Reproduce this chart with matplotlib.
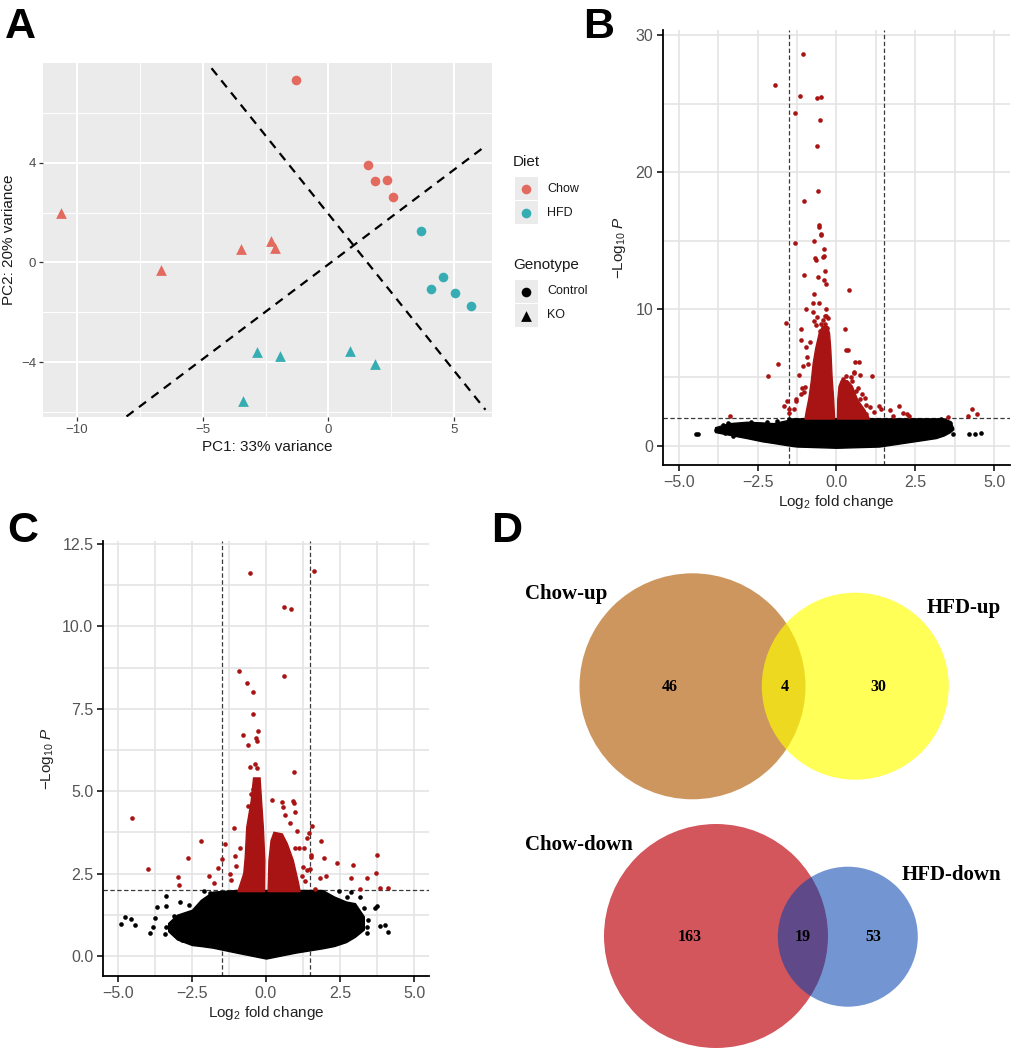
import numpy as np
import matplotlib
matplotlib.use("Agg")
import matplotlib.pyplot as plt
from matplotlib.patches import Circle, Rectangle

plt.rcParams['font.family'] = ['Liberation Sans', 'DejaVu Sans']
plt.rcParams['mathtext.fontset'] = 'custom'
plt.rcParams['mathtext.rm'] = 'Liberation Sans'
plt.rcParams['mathtext.it'] = 'Liberation Sans:italic'
plt.rcParams['mathtext.bf'] = 'Liberation Sans:bold'

# ---------------- data: panel A (PCA) ----------------
chow_ctrl_x = [-1.29, 1.59, 1.85, 2.31, 2.55]
chow_ctrl_y = [7.32, 3.92, 3.28, 3.32, 2.64]
hfd_ctrl_x = [3.69, 4.09, 4.56, 5.03, 5.65]
hfd_ctrl_y = [1.27, -1.08, -0.57, -1.24, -1.75]
chow_ko_x = [-10.65, -6.67, -3.47, -2.27, -2.13]
chow_ko_y = [2.0, -0.3, 0.55, 0.87, 0.57]
hfd_ko_x = [-2.83, -1.93, 0.87, 1.85, -3.41]
hfd_ko_y = [-3.59, -3.75, -3.56, -4.08, -5.54]
split1_x = [-4.65, 6.24]
split1_y = [7.79, -5.91]
split2_x = [-8.03, 6.24]
split2_y = [-6.18, 4.67]

# ---------------- data: panel B (volcano) ----------------
b_red = [(-1.05, 28.6), (-1.96, 26.4), (-1.17, 25.6), (-0.62, 25.4), (-0.50, 25.5),
         (-1.30, 24.3), (-0.52, 23.8), (-0.62, 21.9), (-0.60, 18.6), (-1.04, 17.9),
         (-0.56, 16.0), (-0.54, 16.1), (-0.50, 15.5), (-0.50, 15.4), (-0.71, 15.0),
         (-1.32, 14.8), (-0.41, 14.4), (-0.40, 13.9), (-0.67, 13.7), (-0.65, 13.6),
         (-0.43, 13.8), (-0.38, 12.8), (-1.02, 12.5), (-0.59, 12.3), (-0.40, 12.1),
         (-0.34, 11.8), (0.39, 11.4), (-0.70, 11.1), (-0.74, 10.4), (-0.57, 10.4),
         (-0.97, 10.0), (-0.74, 9.8), (-0.34, 10.0), (-0.38, 9.5), (-0.32, 9.5),
         (-1.60, 9.0), (-1.14, 8.5), (-0.53, 8.4), (-0.30, 8.6), (0.28, 8.5),
         (-1.14, 7.7), (0.30, 7.0), (0.36, 7.0), (-1.87, 6.0), (0.71, 6.1),
         (0.58, 6.1), (-2.18, 5.1), (1.14, 5.1), (0.55, 5.3), (0.29, 5.1),
         (-1.56, 3.3), (-1.68, 2.9), (-0.99, 4.3), (-1.11, 3.8), (-1.29, 3.3),
         (-1.49, 2.4), (-3.37, 2.2), (1.99, 2.9), (1.71, 2.6), (2.12, 2.4),
         (2.23, 2.3), (1.36, 2.9), (1.42, 2.7), (0.93, 3.0), (3.55, 2.1),
         (4.17, 2.2), (4.28, 2.7), (4.45, 2.3), (0.55, 5.42), (0.74, 5.2),
         (0.40, 4.3), (0.69, 4.2), (0.82, 3.8), (-1.27, 3.45), (-1.36, 2.72),
         (-1.10, 4.2), (-1.04, 3.9), (-1.50, 2.72), (1.78, 2.2), (2.30, 2.2),
         (-0.72, 9.1), (-0.62, 9.4), (-0.50, 8.9), (-0.42, 9.2), (-0.28, 9.3),
         (-0.66, 8.8), (-0.36, 8.9), (-0.92, 6.5), (-0.98, 7.2), (-0.85, 7.6),
         (-1.05, 5.8), (-1.20, 5.2), (-0.90, 6.0), (0.62, 4.0), (0.75, 3.4),
         (0.90, 3.5), (1.05, 2.8), (1.20, 2.5), (0.95, 2.3), (0.50, 4.7),
         (0.20, 4.9), (0.45, 5.0)]
b_black = [(-4.44, 0.88), (-4.38, 0.88), (3.68, 0.88), (4.19, 0.85), (4.38, 0.88),
           (4.59, 0.93), (-3.81, 1.17), (-3.70, 1.29), (-3.55, 0.93), (-3.33, 1.05),
           (-3.60, 1.53), (-3.39, 1.41), (-3.12, 1.53), (-2.98, 1.36), (-2.86, 1.17),
           (-2.61, 1.41), (-3.28, 0.70), (-2.42, 1.17), (-2.01, 1.41), (-1.75, 1.53),
           (3.23, 1.85), (3.49, 1.70), (3.60, 1.66), (2.96, 1.66), (3.07, 1.17),
           (-3.45, 1.65), (-3.00, 1.60), (-2.70, 1.75), (-2.20, 1.70), (-1.90, 1.80),
           (3.30, 1.95), (-1.50, 1.95)]
# outline of the dense (overplotted) clouds
b_cloud_x = [-3.85, -3.4, -2.85, -2.35, -2.0, -1.6, -1.4, -1.25, 0.0, 1.35, 2.4, 3.15, 3.4, 3.6, 3.7]
b_cloud_hi = [1.35, 1.65, 1.75, 1.7, 1.65, 1.85, 2.0, 2.0, 2.0, 2.0, 2.0, 2.0, 2.0, 1.8, 1.3]
b_cloud_lo = [1.0, 0.8, 0.56, 0.32, 0.2, 0.05, -0.02, -0.06, -0.15, -0.06, 0.3, 0.56, 0.75, 1.0, 1.2]
b_core_left_x = [-1.0, -0.95, -0.88, -0.8, -0.74, -0.66, -0.55, -0.45, -0.28, -0.22, -0.18, -0.14, -0.09, -0.06]
b_core_left_y = [1.95, 2.6, 3.4, 4.7, 6.0, 7.1, 8.2, 8.7, 8.7, 8.2, 7.0, 5.0, 3.4, 1.95]
b_core_right_x = [0.03, 0.04, 0.08, 0.15, 0.35, 0.5, 0.67, 0.9, 1.05]
b_core_right_y = [1.95, 3.35, 4.35, 4.75, 4.75, 4.35, 3.35, 2.6, 1.95]

# ---------------- data: panel C (volcano) ----------------
c_red = [(-0.54, 11.61), (1.63, 11.68), (0.62, 10.58), (0.86, 10.53), (-0.91, 8.66),
         (0.62, 8.49), (-0.63, 8.29), (-0.43, 8.02), (-0.44, 7.33), (-0.77, 6.70),
         (-0.26, 6.81), (-0.34, 6.61), (-0.31, 6.53), (-0.62, 6.40), (0.93, 5.59),
         (-0.55, 5.72), (-0.36, 5.81), (-0.31, 5.69), (0.90, 4.70), (0.94, 4.63),
         (0.20, 4.73), (0.53, 4.68), (0.56, 4.53), (0.98, 4.37), (0.64, 4.29),
         (0.81, 4.02), (-4.53, 4.17), (1.54, 3.94), (-1.07, 3.87), (1.03, 3.79),
         (1.46, 3.74), (1.37, 3.57), (1.85, 3.49), (-2.18, 3.49), (-1.38, 3.40),
         (1.27, 3.27), (1.12, 3.27), (0.97, 3.27), (-0.88, 3.26), (1.53, 3.07),
         (1.53, 3.01), (-2.62, 2.96), (1.95, 2.98), (3.74, 3.07), (-1.48, 2.93),
         (-1.03, 3.03), (2.39, 2.81), (2.94, 2.76), (-3.98, 2.65), (-1.63, 2.66),
         (1.26, 2.69), (1.37, 2.61), (3.71, 2.53), (1.50, 2.63), (-2.97, 2.40),
         (3.40, 2.36), (-1.93, 2.43), (1.83, 2.35), (2.01, 2.41), (2.86, 2.36),
         (-2.95, 2.15), (-1.18, 2.31), (-1.23, 2.49), (3.83, 2.07), (4.11, 2.06),
         (3.18, 2.02), (1.21, 2.41), (1.32, 2.28), (-1.74, 2.20), (-1.00, 2.73),
         (1.67, 2.02), (-0.45, 5.05), (-0.38, 5.2), (-0.60, 4.55), (-0.50, 4.9)]
c_black = [(-4.88, 0.96), (-4.75, 1.19), (-4.55, 1.12), (-4.43, 0.94), (-3.92, 0.71),
           (-3.80, 0.88), (-3.76, 1.14), (-3.68, 1.48), (-3.38, 1.52), (-3.38, 1.82),
           (-3.38, 0.89), (-3.41, 0.67), (-3.12, 0.79), (-3.09, 1.21), (-2.90, 1.65),
           (-2.82, 0.49), (-2.09, 1.98), (-1.89, 1.90), (-2.60, 1.55), (-2.75, 1.00),
           (3.84, 0.91), (4.01, 0.94), (4.10, 0.74), (3.69, 1.45), (3.74, 1.52),
           (3.16, 1.80), (3.41, 0.89), (3.41, 0.69), (2.86, 1.95), (2.46, 1.98),
           (2.72, 1.80), (3.30, 1.45), (3.45, 1.10), (2.95, 1.30)]
c_cloud_x = [-3.3, -3.0, -2.5, -2.2, -1.8, -1.0, 0.0, 1.0, 1.9, 2.3, 2.7, 3.0, 3.3]
c_cloud_hi = [1.0, 1.25, 1.4, 1.7, 1.95, 2.0, 2.0, 2.0, 2.0, 1.8, 1.65, 1.6, 1.2]
c_cloud_lo = [0.75, 0.5, 0.33, 0.3, 0.25, 0.1, -0.08, 0.1, 0.23, 0.3, 0.42, 0.58, 0.8]
c_core_left_x = [-0.95, -0.75, -0.7, -0.65, -0.5, -0.42, -0.2, -0.15, -0.09, -0.04, -0.05]
c_core_left_y = [1.95, 2.5, 3.0, 3.9, 4.7, 5.4, 5.4, 4.7, 3.9, 2.9, 1.95]
c_core_right_x = [0.07, 0.1, 0.17, 0.27, 0.55, 0.72, 0.92, 1.1, 1.15]
c_core_right_y = [1.95, 2.9, 3.5, 3.75, 3.7, 3.4, 2.9, 2.2, 1.95]

fc_cutoff = 1.5
p_cutoff = 2.0

# ---------------- data: panel D (Venn) ----------------
venn_up_names = ['Chow-up', 'HFD-up']
venn_up_counts = [46, 4, 30]
venn_down_names = ['Chow-down', 'HFD-down']
venn_down_counts = [163, 19, 53]

W, H = 1012, 1050
fig = plt.figure(figsize=(W / 100, H / 100), dpi=100)


def px_axes(left, top, right, bottom):
    return fig.add_axes([left / W, 1 - bottom / H, (right - left) / W, (bottom - top) / H])


RED = '#E36A5F'
TEAL = '#36ADB3'

# ---------------- A ----------------
axA = px_axes(43, 63, 492, 417)
axA.set_facecolor('#EBEBEB')
for s in axA.spines.values():
    s.set_visible(False)
axA.set_xlim(-11.35, 6.5)
axA.set_ylim(-6.2, 8.0)
axA.set_xticks([-10, -5, 0, 5])
axA.set_xticklabels(['\u221210', '\u22125', '0', '5'])
axA.set_yticks([-4, 0, 4])
axA.set_yticklabels(['\u22124', '0', '4'])
axA.set_xticks([-7.5, -2.5, 2.5], minor=True)
axA.set_yticks([-6, -2, 2, 6], minor=True)
axA.grid(True, which='major', color='white', lw=1.5)
axA.grid(True, which='minor', color='white', lw=0.7)
axA.set_axisbelow(True)
axA.tick_params(which='major', length=3, width=0.9, color='#333333', labelsize=9.5,
                labelcolor='#4D4D4D', pad=2)
axA.tick_params(which='minor', length=0)
axA.plot(split1_x, split1_y, ls=(0, (4, 3)), color='black', lw=1.6, zorder=2)
axA.plot(split2_x, split2_y, ls=(0, (4, 3)), color='black', lw=1.6, zorder=2)
axA.scatter(chow_ctrl_x, chow_ctrl_y, s=48, marker='o', color=RED, lw=0, zorder=3)
axA.scatter(hfd_ctrl_x, hfd_ctrl_y, s=48, marker='o', color=TEAL, lw=0, zorder=3)
axA.scatter(chow_ko_x, chow_ko_y, s=60, marker='^', color=RED, lw=0, zorder=3)
axA.scatter(hfd_ko_x, hfd_ko_y, s=60, marker='^', color=TEAL, lw=0, zorder=3)
axA.set_xlabel('PC1: 33% variance', fontsize=11, color='#1A1A1A')
axA.set_ylabel('PC2: 20% variance', fontsize=11, color='#1A1A1A')
axA.xaxis.set_label_coords(0.5, -0.085)
axA.xaxis.label.set_va('center')
axA.yaxis.set_label_coords(-0.076, 0.5)
axA.yaxis.label.set_va('center')


# ---------------- volcano helper ----------------
DARKRED = '#A81414'


def volcano(ax, cloud_x, cloud_lo, cloud_hi, black_pts, cl_x, cl_y, cr_x, cr_y, red_pts,
            ylim, yticks, ylabels, yminor):
    ax.set_xlim(-5.5, 5.5)
    ax.set_ylim(*ylim)
    ax.set_xticks([-5, -2.5, 0, 2.5, 5])
    ax.set_xticklabels(['\u22125.0', '\u22122.5', '0.0', '2.5', '5.0'])
    ax.set_xticks([-3.75, -1.25, 1.25, 3.75], minor=True)
    ax.set_yticks(yticks)
    ax.set_yticklabels(ylabels)
    ax.set_yticks(yminor, minor=True)
    ax.grid(True, which='both', color='#E4E4E4', lw=1.2)
    ax.set_axisbelow(True)
    for side in ['top', 'right']:
        ax.spines[side].set_visible(False)
    for side in ['left', 'bottom']:
        ax.spines[side].set_linewidth(1.3)
        ax.spines[side].set_color('black')
    ax.tick_params(which='major', length=4, width=1.1, color='black', labelsize=11.5,
                   labelcolor='#555555', pad=3)
    ax.tick_params(which='minor', length=0)
    for xv in (-fc_cutoff, fc_cutoff):
        ax.axvline(xv, ls=(0, (3.5, 2)), color='#3A3A3A', lw=0.9, zorder=1.5)
    ax.axhline(p_cutoff, ls=(0, (3.5, 2)), color='#3A3A3A', lw=0.9, zorder=1.5)
    ax.fill_between(cloud_x, cloud_lo, cloud_hi, color='black', lw=1.0, zorder=2)
    bx, by = zip(*black_pts)
    ax.scatter(bx, by, s=11, color='black', lw=0, zorder=2)
    ax.fill(cl_x, cl_y, color=DARKRED, lw=1.0, zorder=3)
    ax.fill(cr_x, cr_y, color=DARKRED, lw=1.0, zorder=3)
    rx, ry = zip(*red_pts)
    ax.scatter(rx, ry, s=11, color=DARKRED, lw=0, zorder=3)
    ax.set_xlabel(r'$\mathrm{Log}_{2}$ fold change', fontsize=11, color='#222222')
    ax.set_ylabel(r'$-\mathrm{Log}_{10}\ \mathit{P}$', fontsize=11, color='#222222')
    ax.xaxis.set_label_coords(0.5, -0.085)
    ax.xaxis.label.set_va('center')
    ax.yaxis.label.set_va('center')


# ---------------- B ----------------
axB = px_axes(663, 30, 1010, 465)
volcano(axB, b_cloud_x, b_cloud_lo, b_cloud_hi, b_black,
        b_core_left_x, b_core_left_y, b_core_right_x, b_core_right_y, b_red,
        (-1.41, 30.39), [0, 10, 20, 30], ['0', '10', '20', '30'], [5, 15, 25])
axB.yaxis.set_label_coords(-0.124, 0.5)

# ---------------- C ----------------
axC = px_axes(103, 541, 429, 976)
volcano(axC, c_cloud_x, c_cloud_lo, c_cloud_hi, c_black,
        c_core_left_x, c_core_left_y, c_core_right_x, c_core_right_y, c_red,
        (-0.61, 12.59), [0, 2.5, 5, 7.5, 10, 12.5],
        ['0.0', '2.5', '5.0', '7.5', '10.0', '12.5'],
        [1.25, 3.75, 6.25, 8.75, 11.25])
axC.yaxis.set_label_coords(-0.170, 0.5)

# ---------------- overlay (pixel coords): letters, legend, Venn ----------------
ov = fig.add_axes([0, 0, 1, 1], zorder=10)
ov.set_xlim(0, W)
ov.set_ylim(H, 0)
ov.axis('off')
ov.patch.set_alpha(0)

for letter, x, y in [('A', 5, 38), ('B', 583, 38), ('C', 7, 542), ('D', 491, 542)]:
    ov.text(x, y, letter, fontsize=31, fontweight='bold', va='baseline', ha='left')

# legend of A
ov.text(513, 162, 'Diet', fontsize=11, va='center', ha='left', color='#1A1A1A')
ov.add_patch(Rectangle((515, 177), 23, 23, color='#EBEBEB', lw=0))
ov.add_patch(Rectangle((515, 201), 23, 23, color='#EBEBEB', lw=0))
ov.scatter([526.5], [188.5], s=48, marker='o', color=RED, lw=0)
ov.scatter([526.5], [212.5], s=48, marker='o', color=TEAL, lw=0)
ov.text(547, 188.5, 'Chow', fontsize=9, va='center', ha='left', color='#1A1A1A')
ov.text(547, 212.5, 'HFD', fontsize=9, va='center', ha='left', color='#1A1A1A')
ov.text(513, 265, 'Genotype', fontsize=11, va='center', ha='left', color='#1A1A1A')
ov.add_patch(Rectangle((515, 280), 23, 23, color='#EBEBEB', lw=0))
ov.add_patch(Rectangle((515, 304), 23, 23, color='#EBEBEB', lw=0))
ov.scatter([526.5], [291.5], s=48, marker='o', color='black', lw=0)
ov.scatter([526.5], [316], s=60, marker='^', color='black', lw=0)
ov.text(547, 291.5, 'Control', fontsize=9, va='center', ha='left', color='#1A1A1A')
ov.text(547, 315.5, 'KO', fontsize=9, va='center', ha='left', color='#1A1A1A')

# Venn diagrams
serif = ['Liberation Serif', 'DejaVu Serif']
ov.add_patch(Circle((692.5, 686.3), 113, color='#CD965F', lw=0))
ov.add_patch(Circle((855.3, 686.2), 93.5, color='#FFFF00', alpha=0.66, lw=0))
ov.add_patch(Circle((716, 936), 112, color='#D4565D', lw=0))
ov.add_patch(Circle((847.8, 936.7), 70, color='#0040AD', alpha=0.55, lw=0))

ov.text(525, 594, venn_up_names[0], family=serif, fontsize=15, fontweight='bold',
        va='center', ha='left')
ov.text(1001, 608, venn_up_names[1], family=serif, fontsize=15, fontweight='bold',
        va='center', ha='right')
ov.text(525, 845, venn_down_names[0], family=serif, fontsize=15, fontweight='bold',
        va='center', ha='left')
ov.text(1001, 875, venn_down_names[1], family=serif, fontsize=15, fontweight='bold',
        va='center', ha='right')
for xpos, n in zip([669.3, 784.3, 878.3], venn_up_counts):
    ov.text(xpos, 687.3, str(n), family=serif, fontsize=11.5, fontweight='bold',
            va='center', ha='center')
for xpos, n in zip([690, 802.7, 873.3], venn_down_counts):
    ov.text(xpos, 937.3, str(n), family=serif, fontsize=11.5, fontweight='bold',
            va='center', ha='center')

fig.savefig('out.png', dpi=100)
